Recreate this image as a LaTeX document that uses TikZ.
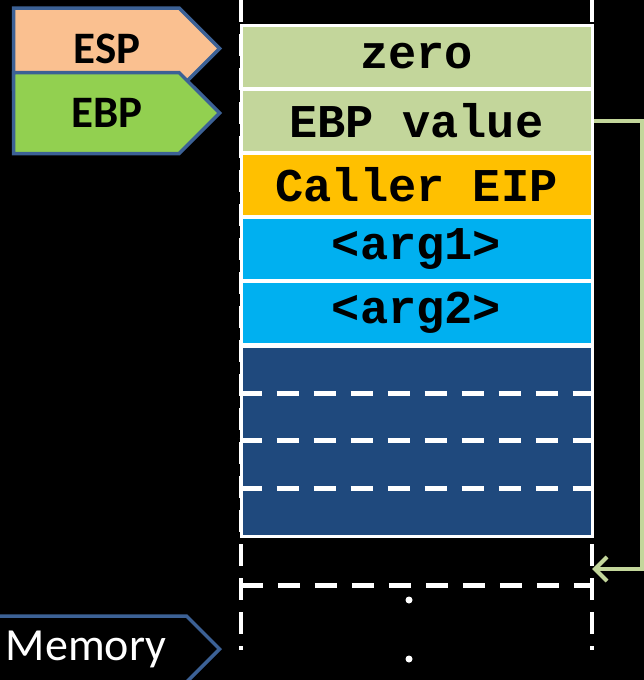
\documentclass[tikz,border=0pt]{standalone}
\usepackage{fontspec}
\setmainfont{Carlito}
\newfontfamily\codefont{Liberation Mono}
\usetikzlibrary{shapes.symbols,arrows.meta}
\definecolor{slotgreen}{HTML}{C3D69B}
\definecolor{slotorange}{HTML}{FFC000}
\definecolor{slotcyan}{HTML}{00B0F0}
\definecolor{slotnavy}{HTML}{1F497D}
\definecolor{espfill}{HTML}{FAC090}
\definecolor{ebpfill}{HTML}{92D050}
\definecolor{ptrline}{HTML}{3C6195}
\begin{document}
\begin{tikzpicture}[x=1pt,y=-1pt,
  slot/.style={draw=white,line width=3pt,minimum width=351pt,inner sep=0pt,
  font=\codefont\bfseries\fontsize{47}{50}\selectfont},
  reg/.style={signal,signal to=east,signal pointer angle=90,draw=ptrline,
  line width=3.5pt,inner sep=0pt,minimum width=206pt,minimum height=81pt,
  anchor=east,font=\bfseries\fontsize{45}{50}\selectfont},
  sep/.style={white,line width=5pt,dash pattern=on 22pt off 15pt},
  rail/.style={white,line width=4pt,dash pattern=on 22pt off 12pt},
  link/.style={-{Straight Barb[length=12pt,width=24pt,line width=4pt]},
  draw=slotgreen,line width=4pt}]
\useasboundingbox[fill=black] (0,0) rectangle (644,680);
% column rails
\coordinate (railLtop) at (241,0);
\coordinate (railLbot) at (241,650);
\coordinate (railRtop) at (592,0);
\coordinate (railRbot) at (592,650);
\draw[rail] (railLtop)--(railLbot);
\draw[rail] (railRtop)--(railRbot);
% stack slots
\node[slot,fill=slotgreen,minimum height=63pt] (zero) at (416.5,56.5) {zero};
\node[slot,fill=slotgreen,minimum height=63pt] (ebpval) at (416.5,121) {EBP value};
\node[slot,fill=slotorange,minimum height=63pt] (eip) at (416.5,184.5) {Caller EIP};
\node[slot,fill=slotcyan,minimum height=63pt] (argone) at (416.5,249) {<arg1>};
\node[slot,fill=slotcyan,minimum height=63pt] (argtwo) at (416.5,313) {<arg2>};
\node[slot,fill=slotnavy,minimum height=190pt] (locals) at (416.5,441) {};
\foreach \y in {393,440,488}
  \draw[sep] (locals.west|-0,\y)--(locals.east|-0,\y);
\node[minimum width=351pt,minimum height=49pt,inner sep=0pt] (free) at (416.5,561) {};
\draw[sep] (free.south west)--(free.south east);
\node[circle,fill=white,inner sep=0pt,minimum size=7pt] (dotone) at (409,600) {};
\node[circle,fill=white,inner sep=0pt,minimum size=7pt] (dottwo) at (409,659) {};
% registers
\node[reg,fill=espfill] (esp) at (222,48.5) {\hspace*{22pt}ESP};
\node[reg,fill=ebpfill] (ebp) at (222,113) {\hspace*{22pt}EBP};
\node[reg,fill=black,text=white,font=\fontsize{46}{50}\selectfont,
  minimum width=234pt,minimum height=66pt] (mem) at (222,649) {Memory};
% saved frame pointer
\draw[link] (ebpval.east)--++(48,0)|-([yshift=-8pt]free.east);
\end{tikzpicture}
\end{document}
